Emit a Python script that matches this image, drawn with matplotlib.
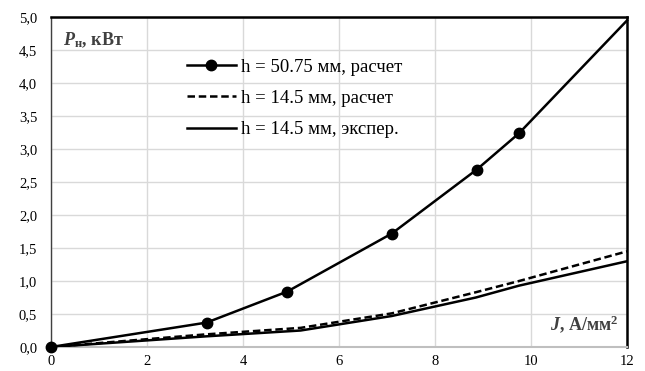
import matplotlib.pyplot as plt
from matplotlib.ticker import FuncFormatter

plt.rcParams['font.family'] = ['Liberation Serif', 'DejaVu Serif']
plt.rcParams['mathtext.fontset'] = 'custom'
plt.rcParams['mathtext.rm'] = 'Liberation Serif'
plt.rcParams['mathtext.it'] = 'Liberation Serif:italic:bold'
plt.rcParams['mathtext.bf'] = 'Liberation Serif:bold'

# Данные
J_calc = [0, 3.24, 4.92, 7.1, 8.87, 9.75, 12]
P_5075 = [0, 0.37, 0.84, 1.72, 2.69, 3.24, 4.95]

J_145 = [0, 3.2, 5.2, 7.1, 8.85, 9.75, 12]
P_145_calc = [0, 0.19, 0.29, 0.51, 0.83, 1.0, 1.45]
P_145_exp = [0, 0.16, 0.25, 0.47, 0.75, 0.93, 1.30]

x_ticks = [0, 2, 4, 6, 8, 10, 12]
y_ticks = [0, 0.5, 1.0, 1.5, 2.0, 2.5, 3.0, 3.5, 4.0, 4.5, 5.0]

fig = plt.figure(figsize=(6.45, 3.71), dpi=100)
ax = fig.add_axes([0.0791, 0.0647, 0.893, 0.889])

ax.plot(J_calc, P_5075, color='black', lw=1.8, marker='o', markersize=7.5,
        markevery=[0, 1, 2, 3, 4, 5], label='h = 50.75 мм, расчет', zorder=3, clip_on=False)
ax.plot(J_145, P_145_calc, color='black', lw=1.8, linestyle=(0, (3, 1.5)),
        label='h = 14.5 мм, расчет', zorder=3)
ax.plot(J_145, P_145_exp, color='black', lw=1.8, label='h = 14.5 мм, экспер.', zorder=3)

ax.set_xlim(0, 12)
ax.set_ylim(0, 5)
ax.set_xticks(x_ticks)
ax.set_yticks(y_ticks)
ax.yaxis.set_major_formatter(FuncFormatter(lambda v, p: f'{v:.1f}'.replace('.', ',')))
ax.tick_params(axis='both', length=0, labelsize=10.5)
ax.tick_params(axis='x', pad=6)
ax.tick_params(axis='y', pad=10)
ax.grid(True, color='#d9d9d9', lw=1)
ax.set_axisbelow(True)

ax.spines['top'].set_color('black')
ax.spines['top'].set_linewidth(1.8)
ax.spines['right'].set_color('black')
ax.spines['right'].set_linewidth(1.8)
ax.spines['left'].set_color('#404040')
ax.spines['left'].set_linewidth(1)
ax.spines['bottom'].set_color('#bfbfbf')
ax.spines['bottom'].set_linewidth(1.5)

ax.text(0.02, 0.93, r'$P_{\mathregular{н}}$, кВт', transform=ax.transAxes,
        fontsize=13, fontweight='bold', color='#404040', va='center', ha='left')
ax.text(0.985, 0.07, r'$J$, А/мм$^{\mathregular{2}}$', transform=ax.transAxes,
        fontsize=13, fontweight='bold', color='#404040', va='center', ha='right')

leg = ax.legend(loc='upper left', bbox_to_anchor=(0.21, 0.92), frameon=False,
                fontsize=13.5, handlelength=2.6, handletextpad=0.3,
                labelspacing=0.75, borderpad=0.3)

fig.savefig('out.png', dpi=100)
